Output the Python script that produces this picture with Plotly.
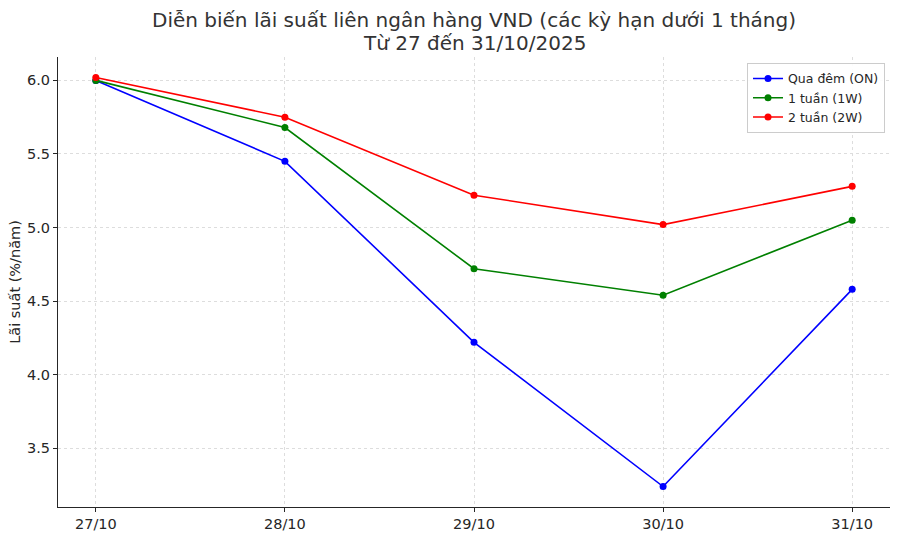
import plotly.graph_objects as go

dates = ["27/10", "28/10", "29/10", "30/10", "31/10"]
on_rates = [6.00, 5.45, 4.22, 3.24, 4.58]
w1_rates = [6.00, 5.68, 4.72, 4.54, 5.05]
w2_rates = [6.02, 5.75, 5.22, 5.02, 5.28]
series_names = ["Qua đêm (ON)", "1 tuần (1W)", "2 tuần (2W)"]
colors = ["#0000ff", "#008000", "#ff0000"]
y_ticks = [3.5, 4.0, 4.5, 5.0, 5.5, 6.0]
title_lines = ["Diễn biến lãi suất liên ngân hàng VND (các kỳ hạn dưới 1 tháng)",
               "Từ 27 đến 31/10/2025"]

FONT = "DejaVu Sans"
TOP, BOTTOM_PX, H = 57, 507, 536
PLOT_H = BOTTOM_PX - TOP

fig = go.Figure()
for name, vals, c in zip(series_names, [on_rates, w1_rates, w2_rates], colors):
    fig.add_trace(go.Scatter(
        x=list(range(len(dates))), y=vals, name=name, mode="lines+markers",
        line=dict(color=c, width=1.6), marker=dict(color=c, size=7),
    ))

for line, py in zip(title_lines, [20, 43]):
    fig.add_annotation(
        text=line, xref="paper", yref="paper", x=0.5, y=(BOTTOM_PX - py) / PLOT_H,
        xanchor="center", yanchor="middle", showarrow=False,
        font=dict(size=20, family=FONT, color="#333333"),
    )

fig.update_layout(
    width=900, height=H,
    margin=dict(l=58, r=10, t=TOP, b=H - BOTTOM_PX, autoexpand=False),
    paper_bgcolor="white", plot_bgcolor="white",
    font=dict(family=FONT, color="#262626"),
    legend=dict(
        x=0.994, y=0.987, xanchor="right", yanchor="top",
        bgcolor="rgba(255,255,255,0.9)", bordercolor="#cccccc", borderwidth=1,
        font=dict(size=12.5, family=FONT, color="#262626"),
        itemwidth=30, tracegroupgap=0,
    ),
    showlegend=True,
)
fig.update_xaxes(
    range=[-0.2, 4.2], tickmode="array", tickvals=list(range(len(dates))), ticktext=dates,
    showgrid=True, gridcolor="#dddddd", griddash="3px,3px", gridwidth=0.8,
    showline=True, linecolor="#262626", linewidth=1, mirror=False,
    ticks="outside", ticklen=4, tickcolor="#262626",
    tickfont=dict(size=14.5, family=FONT, color="#262626"), zeroline=False,
    automargin=False,
)
fig.update_yaxes(
    range=[3.101, 6.159], tickmode="array", tickvals=y_ticks,
    ticktext=[f"{v:.1f}" for v in y_ticks],
    showgrid=True, gridcolor="#dddddd", griddash="3px,3px", gridwidth=0.8,
    showline=True, linecolor="#262626", linewidth=1, mirror=False,
    ticks="outside", ticklen=4, tickcolor="#262626",
    tickfont=dict(size=14.5, family=FONT, color="#262626"), zeroline=False,
    title=dict(text="Lãi suất (%/năm)", font=dict(size=14.5, family=FONT, color="#262626"), standoff=2),
    automargin=False,
)

fig.write_html("out.html", config={"displayModeBar": False},
               post_script="document.body.style.margin='0';")
